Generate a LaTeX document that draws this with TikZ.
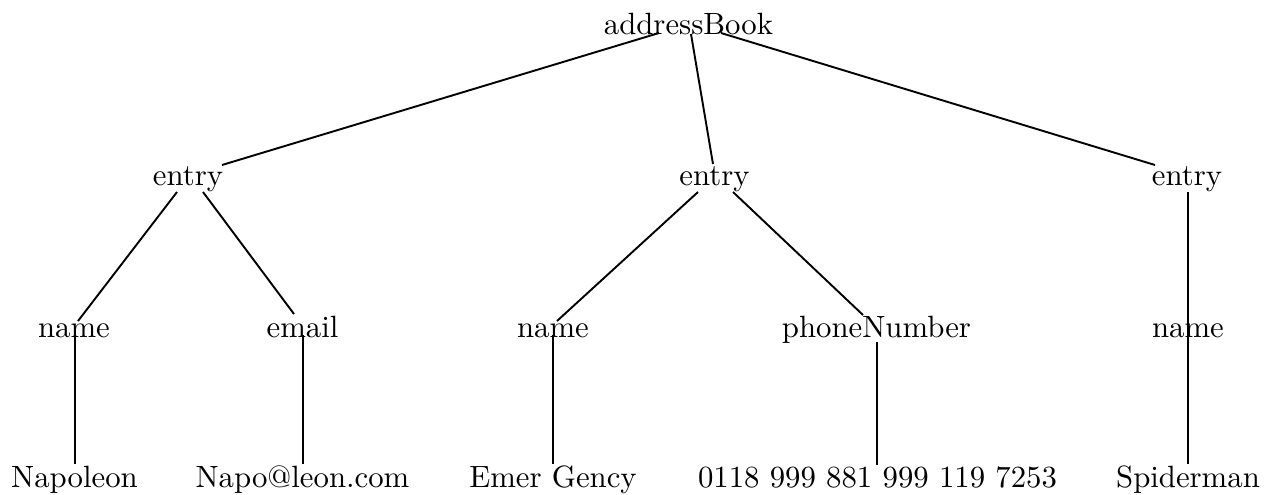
\documentclass[tikz,border=0pt]{standalone}
\begin{document}
\begin{tikzpicture}[x=0.325pt,y=-0.325pt,
  lbl/.style={anchor=base,inner sep=0pt,font=\normalsize},
  edge/.style={line width=0.62pt}]
\useasboundingbox (0,0) rectangle (1279,494);
% nodes
\node[lbl] (ab) at (688.5,34) {addressBook};
\node[lbl] (e1) at (188,185) {entry};
\node[lbl] (e2) at (714.5,185) {entry};
\node[lbl] (e3) at (1187,185) {entry};
\node[lbl] (n1) at (74,337) {name};
\node[lbl] (m1) at (302.5,337) {email};
\node[lbl] (n2) at (553,337) {name};
\node[lbl] (p2) at (876.5,337) {phoneNumber};
\node[lbl] (n3) at (1188,337) {name};
\node[lbl] (v1) at (74.5,487) {Napoleon};
\node[lbl] (v2) at (302.5,487) {Napo@leon.com};
\node[lbl] (v3) at (553,487) {Emer Gency};
\node[lbl] (v4) at (877.5,487) {0118 999 881 999 119 7253};
\node[lbl] (v5) at (1188,487) {Spiderman};
% edge end points
\coordinate (abL) at (659,33);
\coordinate (abM) at (691,34);
\coordinate (abR) at (721,33);
\coordinate (e1T) at (222,165);
\coordinate (e2T) at (713,164);
\coordinate (e3T) at (1155,165);
\coordinate (e1L) at (177,192);
\coordinate (e1R) at (203,192);
\coordinate (e2L) at (698,192);
\coordinate (e2R) at (733,192);
\coordinate (e3B) at (1188,192);
\coordinate (n1T) at (78,321);
\coordinate (m1T) at (294,314);
\coordinate (n2T) at (557,321);
\coordinate (p2T) at (863,315);
\coordinate (n1B) at (75,335);
\coordinate (m1B) at (303,335);
\coordinate (n2B) at (553,335);
\coordinate (p2B) at (877,342);
\coordinate (v1T) at (75,464);
\coordinate (v2T) at (303,464);
\coordinate (v3T) at (553,464);
\coordinate (v4T) at (877,465);
\coordinate (v5T) at (1188,464);
% edges
\draw[edge] (abL) -- (e1T);
\draw[edge] (abM) -- (e2T);
\draw[edge] (abR) -- (e3T);
\draw[edge] (e1L) -- (n1T);
\draw[edge] (e1R) -- (m1T);
\draw[edge] (e2L) -- (n2T);
\draw[edge] (e2R) -- (p2T);
\draw[edge] (e3B) -- (v5T);
\draw[edge] (n1B) -- (v1T);
\draw[edge] (m1B) -- (v2T);
\draw[edge] (n2B) -- (v3T);
\draw[edge] (p2B) -- (v4T);
\end{tikzpicture}
\end{document}
